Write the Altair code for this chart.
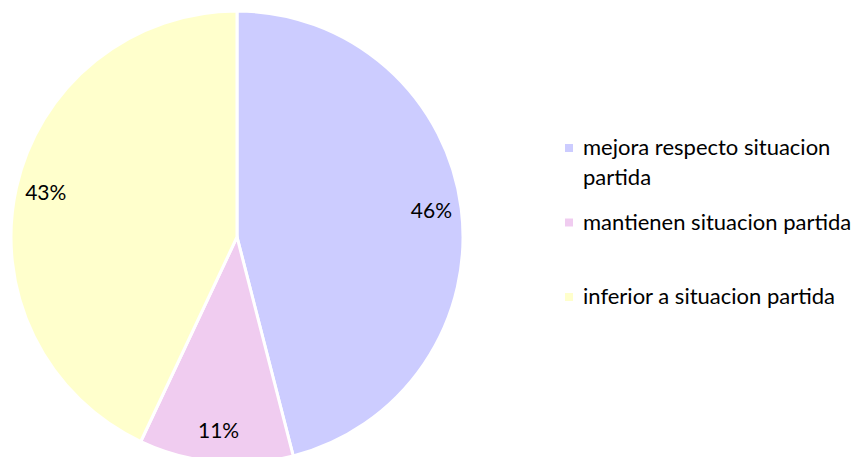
import altair as alt
import pandas as pd

categorias = ["mejora respecto situacion partida", "mantienen situacion partida", "inferior a situacion partida"]
valores = [46, 11, 43]
etiquetas = ["46%", "11%", "43%"]
colores = ["#CCCCFF", "#F0CCF0", "#FFFFCC"]
leyenda = ["mejora respecto situacion\npartida", "mantienen situacion partida", "inferior a situacion partida"]

df = pd.DataFrame({
    "cat": categorias,
    "val": valores,
    "lab": etiquetas,
    "orden": list(range(len(categorias))),
    "leg": leyenda,
})

FONT = "Lato"
CX, CY, R = 237, 237, 226

color = alt.Color("cat:N", scale=alt.Scale(domain=categorias, range=colores), legend=None)

base = alt.Chart(df)

pie = base.mark_arc(radius=R, stroke="white", strokeWidth=3).encode(
    theta=alt.Theta("val:Q", stack=True),
    order=alt.Order("orden:Q"),
    color=color,
    x=alt.value(CX),
    y=alt.value(CY),
)

labels = base.mark_text(radius=196, font=FONT, fontSize=21, color="#000000").encode(
    theta=alt.Theta("val:Q", stack=True),
    order=alt.Order("orden:Q"),
    text="lab:N",
    x=alt.value(CX),
    y=alt.value(CY),
)

ypos = alt.Y("cat:N", scale=alt.Scale(domain=categorias, range=[148, 297], type="point", padding=0), axis=None)

leg_sym = base.mark_point(shape="square", filled=True, size=64, opacity=1).encode(
    x=alt.value(569),
    y=ypos,
    color=color,
)

leg_txt = base.mark_text(align="left", baseline="middle", font=FONT, fontSize=22, lineBreak="\n",
                         lineHeight=30, color="#000000").encode(
    x=alt.value(583),
    y=ypos,
    text="leg:N",
)

chart = alt.layer(pie, labels, leg_sym, leg_txt).properties(
    width=858, height=457, autosize=alt.AutoSizeParams(type="none"), padding=0
).configure_view(stroke=None)

chart.save("out.html", embed_options={"renderer": "svg", "actions": False})
